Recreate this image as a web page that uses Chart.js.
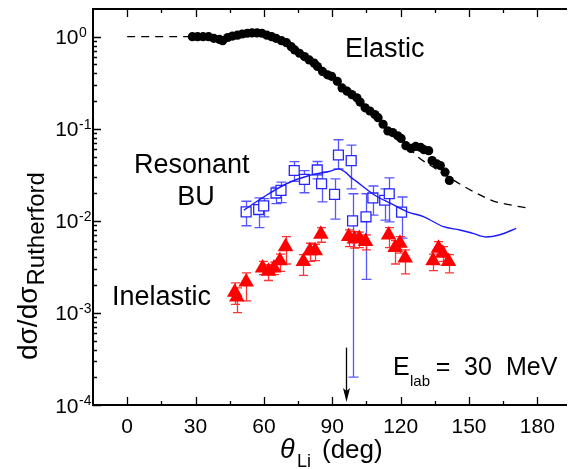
<!DOCTYPE html>
<html>
<head>
<meta charset="utf-8">
<script src="https://cdn.jsdelivr.net/npm/chart.js@4.4.1/dist/chart.umd.min.js"></script>
<style>
  html, body { margin: 0; padding: 0; background: #fff; overflow: hidden; }
  canvas { display: block; }
</style>
</head>
<body>
<canvas id="c" width="576" height="469"></canvas>
<script>
// 6Li + target, E_lab = 30 MeV: ratio to Rutherford vs. Li scattering angle

// Elastic scattering data (deg, ratio)
const elasticX = [28.6, 30.9, 33.3, 35.7, 38.0, 40.5, 41.9, 44.1, 46.2, 48.4, 50.5, 52.7, 54.8, 57.0, 59.1,
  61.3, 63.4, 65.3, 67.7, 69.9, 72.0, 73.5, 75.6, 77.8, 79.9, 82.1, 83.5, 85.7, 87.9, 89.7, 92.2, 94.3,
  96.5, 98.6, 100.8, 102.2, 104.4, 106.5, 108.7, 110.1, 112.3, 114.4, 116.5, 118.7, 120.2, 122.3, 124.5,
  126.6, 128.8, 130.2, 132.3, 133.8, 135.9, 137.4, 139.5, 141.4];
const elasticY = [1.0, 1.0, 1.0, 1.0, 0.96, 0.935, 0.906, 0.98, 1.015, 1.04, 1.07, 1.09, 1.10, 1.10, 1.09,
  1.04, 1.0, 0.96, 0.906, 0.862, 0.78, 0.718, 0.661, 0.609, 0.56, 0.516, 0.475, 0.42, 0.386, 0.371, 0.328, 0.278,
  0.256, 0.235, 0.217, 0.195, 0.169, 0.156, 0.143, 0.132, 0.112, 0.0949, 0.091, 0.0839, 0.0785, 0.0655, 0.0612,
  0.0643, 0.0628, 0.0593, 0.0578, 0.0451, 0.0415, 0.0399, 0.0338, 0.0275];

// Elastic calculation (dashed)
const elasticCalcX = [0, 30, 40, 50, 57, 65, 75, 85, 95, 105, 115, 122, 127, 135, 147, 155, 161, 167.5, 175.5];
const elasticCalcY = [1, 1, 0.95, 1.05, 1.1, 0.97, 0.66, 0.43, 0.27, 0.165, 0.1, 0.07, 0.051, 0.0373, 0.0243, 0.019, 0.0163, 0.015, 0.0138];

// Resonant breakup data with error bars
const resX  = [52.2, 57.7, 59.9, 65.3, 67.5, 73.3, 77.8, 83.4, 85.3, 91.0, 92.7, 98.3, 98.9, 104.8, 107.8, 113.0, 115.0, 120.4];
const resY  = [0.01253, 0.01327, 0.01455, 0.02005, 0.02143, 0.03523, 0.0282, 0.0357, 0.0253, 0.0194, 0.0519, 0.0451, 0.0100, 0.01107, 0.01774, 0.01675, 0.0197, 0.01244];
const resHi = [0.01633, 0.01774, 0.0174, 0.0233, 0.02636, 0.04406, 0.0352, 0.0441, 0.0338, 0.0286, 0.076, 0.0664, 0.0197, 0.0197, 0.0239, 0.0223, 0.0293, 0.01816];
const resLo = [0.00885, 0.00843, 0.01107, 0.01538, 0.01578, 0.0268, 0.0202, 0.0286, 0.0161, 0.01045, 0.0366, 0.0223, 0.000201, 0.00231, 0.01154, 0.0102, 0.00977, 0.0065];

// Resonant breakup calculation (solid blue)
const resCalcX = [51.2, 59.9, 69.9, 79.9, 88.5, 92.9, 95.7, 98.6, 100.0, 108.7, 115.8, 123.0, 130.2, 138.8, 146.0, 151.7, 157.5, 163.2, 170.7];
const resCalcY = [0.01306, 0.01817, 0.0253, 0.0311, 0.0344, 0.0367, 0.0338, 0.0291, 0.0275, 0.01896, 0.01538, 0.01253, 0.01107, 0.00864, 0.00796, 0.00732, 0.00669, 0.00703, 0.00828];

// Inelastic data with error bars
const inelX  = [47.2, 48.1, 52.2, 59.4, 62.0, 64.4, 67.0, 69.5, 77.3, 80.2, 82.5, 85.0, 97.2, 99.7, 101.9, 104.6, 114.7, 117.6, 119.7, 122.0, 134.2, 136.6, 138.5, 141.0];
const inelY  = [0.00168, 0.00149, 0.00217, 0.00307, 0.00283, 0.00307, 0.00369, 0.00522, 0.00363, 0.00473, 0.00473, 0.00714, 0.00675, 0.00637, 0.00645, 0.00596, 0.00703, 0.00513, 0.00571, 0.00394, 0.00369, 0.00505, 0.00446, 0.00363];
const inelHi = [0.00212, 0.00187, 0.00272, 0.00363, 0.00334, 0.00357, 0.00435, 0.00675, 0.0043, 0.00571, 0.00557, 0.00843, 0.00799, 0.00763, 0.00753, 0.00705, 0.00843, 0.0061, 0.00675, 0.00485, 0.00435, 0.00596, 0.00526, 0.0043];
const inelLo = [0.00124, 0.00101, 0.00135, 0.00261, 0.00225, 0.00261, 0.00283, 0.0034, 0.00256, 0.00363, 0.00369, 0.00586, 0.00526, 0.00505, 0.00513, 0.00485, 0.00513, 0.0034, 0.00446, 0.00265, 0.00288, 0.00411, 0.00363, 0.00272];

// Axis ticks
const xTickValues = [0, 30, 60, 90, 120, 150, 180];
const xMinorValues = [15, 45, 75, 105, 135, 165];
const yTickExponents = [0, -1, -2, -3, -4];

// Grazing-angle marker
const arrowX = 96;
const arrowFrom = 4.2e-4;
const arrowTo = 1.08e-4;

const FONT = '"Liberation Sans", Arial, Helvetica, sans-serif';

const pts = (xs, ys) => xs.map((x, i) => ({ x, y: ys[i] }));

function errorBars(ctx, xs, s, lo, hi, color, cap, xScale, yScale) {
  ctx.save();
  ctx.strokeStyle = color;
  ctx.lineWidth = 1.3;
  for (let i = 0; i < xs.length; i++) {
    const px = Math.round(xScale.getPixelForValue(xs[i])) + 0.5;
    const y1 = yScale.getPixelForValue(hi[i]);
    const y2 = yScale.getPixelForValue(lo[i]);
    ctx.beginPath();
    ctx.moveTo(px, y1); ctx.lineTo(px, y2);
    ctx.moveTo(px - cap, y1); ctx.lineTo(px + cap, y1);
    ctx.moveTo(px - cap, y2); ctx.lineTo(px + cap, y2);
    ctx.stroke();
  }
  ctx.restore();
}

const decorations = {
  id: 'decorations',
  beforeDatasetsDraw(chart) {
    const { ctx, scales: { x, y }, chartArea: a } = chart;
    ctx.save();
    ctx.beginPath();
    ctx.rect(a.left, a.top, a.right - a.left, a.bottom - a.top);
    ctx.clip();
    errorBars(ctx, resX, resY, resLo, resHi, 'rgba(45,45,255,0.8)', 5, x, y);
    errorBars(ctx, inelX, inelY, inelLo, inelHi, 'rgba(255,30,30,0.9)', 4.5, x, y);
    ctx.restore();
  },
  afterDraw(chart) {
    const { ctx, scales: { x, y }, chartArea: a } = chart;
    ctx.save();
    ctx.strokeStyle = '#000';
    ctx.fillStyle = '#000';

    // arrow
    const ax = Math.round(x.getPixelForValue(arrowX)) + 0.5;
    const ay1 = y.getPixelForValue(arrowFrom);
    const ay2 = y.getPixelForValue(arrowTo);
    ctx.lineWidth = 1.3;
    ctx.beginPath(); ctx.moveTo(ax, ay1); ctx.lineTo(ax, ay2 - 10); ctx.stroke();
    ctx.beginPath();
    ctx.moveTo(ax, ay2); ctx.lineTo(ax - 3.5, ay2 - 14); ctx.lineTo(ax, ay2 - 11); ctx.lineTo(ax + 3.5, ay2 - 14);
    ctx.closePath(); ctx.fill();

    // frame: left, bottom, top
    ctx.lineWidth = 2;
    ctx.beginPath();
    ctx.moveTo(a.left, a.top); ctx.lineTo(a.left, a.bottom);
    ctx.moveTo(a.left - 1, a.bottom); ctx.lineTo(a.right, a.bottom);
    ctx.moveTo(a.left - 1, a.top); ctx.lineTo(a.right, a.top);
    ctx.stroke();

    // x ticks (bottom and top, inward)
    ctx.lineWidth = 1.3;
    ctx.beginPath();
    for (const v of xTickValues) {
      const px = Math.round(x.getPixelForValue(v)) + 0.5;
      ctx.moveTo(px, a.bottom); ctx.lineTo(px, a.bottom - 8);
      ctx.moveTo(px, a.top); ctx.lineTo(px, a.top + 8);
    }
    for (const v of xMinorValues) {
      const px = Math.round(x.getPixelForValue(v)) + 0.5;
      ctx.moveTo(px, a.bottom); ctx.lineTo(px, a.bottom - 4);
      ctx.moveTo(px, a.top); ctx.lineTo(px, a.top + 4);
    }
    // y ticks (inward)
    for (const e of yTickExponents) {
      const py = Math.round(y.getPixelForValue(Math.pow(10, e))) + 0.5;
      ctx.moveTo(a.left, py); ctx.lineTo(a.left + 8, py);
      if (e < 0) {
        for (let m = 2; m <= 9; m++) {
          const pm = Math.round(y.getPixelForValue(m * Math.pow(10, e))) + 0.5;
          ctx.moveTo(a.left, pm); ctx.lineTo(a.left + 4, pm);
        }
      }
    }
    ctx.stroke();

    // x tick labels
    ctx.font = '21px ' + FONT;
    ctx.textAlign = 'center';
    ctx.textBaseline = 'alphabetic';
    for (const v of xTickValues) {
      ctx.fillText(String(v), x.getPixelForValue(v), a.bottom + 28);
    }
    // y tick labels 10^n
    for (const e of yTickExponents) {
      const py = y.getPixelForValue(Math.pow(10, e));
      ctx.font = '21px ' + FONT;
      ctx.textAlign = 'right';
      ctx.fillText('10', 78.5, py + 7.5);
      ctx.font = '14px ' + FONT;
      ctx.textAlign = 'left';
      ctx.fillText(e === 0 ? '0' : '-' + Math.abs(e), 79, py);
    }

    // axis titles
    ctx.textAlign = 'left';
    ctx.font = 'italic 27px ' + FONT;
    ctx.fillText('\u03b8', 280, 458);
    ctx.font = '18px ' + FONT;
    ctx.fillText('Li', 297, 467);
    ctx.font = '26px ' + FONT;
    ctx.fillText('(deg)', 322, 458);

    ctx.save();
    ctx.translate(37, 360);
    ctx.rotate(-Math.PI / 2);
    ctx.font = '28px ' + FONT;
    ctx.fillText('d\u03c3/d\u03c3', 0, 0);
    const w = ctx.measureText('d\u03c3/d\u03c3').width;
    ctx.font = '24px ' + FONT;
    ctx.fillText('Rutherford', w + 1, 7);
    ctx.restore();

    // curve labels
    ctx.font = '27px ' + FONT;
    ctx.fillText('Elastic', 345, 57);
    ctx.fillText('Resonant', 134, 173);
    ctx.textAlign = 'center';
    ctx.fillText('BU', 196, 205);
    ctx.textAlign = 'left';
    ctx.fillText('Inelastic', 112, 305);

    // beam energy
    ctx.font = '25px ' + FONT;
    ctx.fillText('E', 393, 375);
    ctx.font = '15px ' + FONT;
    ctx.fillText('lab', 410, 386);
    ctx.font = '25px ' + FONT;
    ctx.textAlign = 'center';
    ctx.fillText('=', 443, 375);
    ctx.fillText('30', 478, 375);
    ctx.textAlign = 'left';
    ctx.fillText('MeV', 506, 375);
    ctx.restore();
  }
};

new Chart(document.getElementById('c'), {
  data: {
    datasets: [
      {
        type: 'line', label: 'Elastic calc', data: pts(elasticCalcX, elasticCalcY),
        borderColor: '#000', borderWidth: 1.3, borderDash: [8, 6], pointRadius: 0,
        cubicInterpolationMode: 'monotone', fill: false
      },
      {
        type: 'scatter', label: 'Elastic', data: pts(elasticX, elasticY),
        pointStyle: 'circle', pointRadius: 4.6, backgroundColor: '#000', borderColor: '#000', borderWidth: 0
      },
      {
        type: 'line', label: 'Resonant BU calc', data: pts(resCalcX, resCalcY),
        borderColor: '#1a1aff', borderWidth: 1.4, pointRadius: 0,
        cubicInterpolationMode: 'monotone', fill: false
      },
      {
        type: 'scatter', label: 'Resonant BU', data: pts(resX, resY),
        pointStyle: 'rect', pointRadius: 7, backgroundColor: '#fff', borderColor: '#2626ff', borderWidth: 1.3
      },
      {
        type: 'scatter', label: 'Inelastic', data: pts(inelX, inelY),
        pointStyle: 'triangle', pointRadius: 9, backgroundColor: '#ff0000', borderColor: '#ff0000', borderWidth: 0
      }
    ]
  },
  options: {
    responsive: false,
    animation: false,
    devicePixelRatio: 1,
    layout: { padding: { left: 93, top: 6, right: 0, bottom: 64 } },
    plugins: { legend: { display: false }, tooltip: { enabled: false } },
    scales: {
      x: {
        type: 'linear', min: -15, max: 193,
        ticks: { display: false }, grid: { display: false }, border: { display: false },
        afterFit: s => { s.height = 0; }
      },
      y: {
        type: 'logarithmic', min: 1e-4, max: 2,
        ticks: { display: false }, grid: { display: false }, border: { display: false },
        afterFit: s => { s.width = 0; }
      }
    }
  },
  plugins: [decorations]
});
</script>
</body>
</html>
